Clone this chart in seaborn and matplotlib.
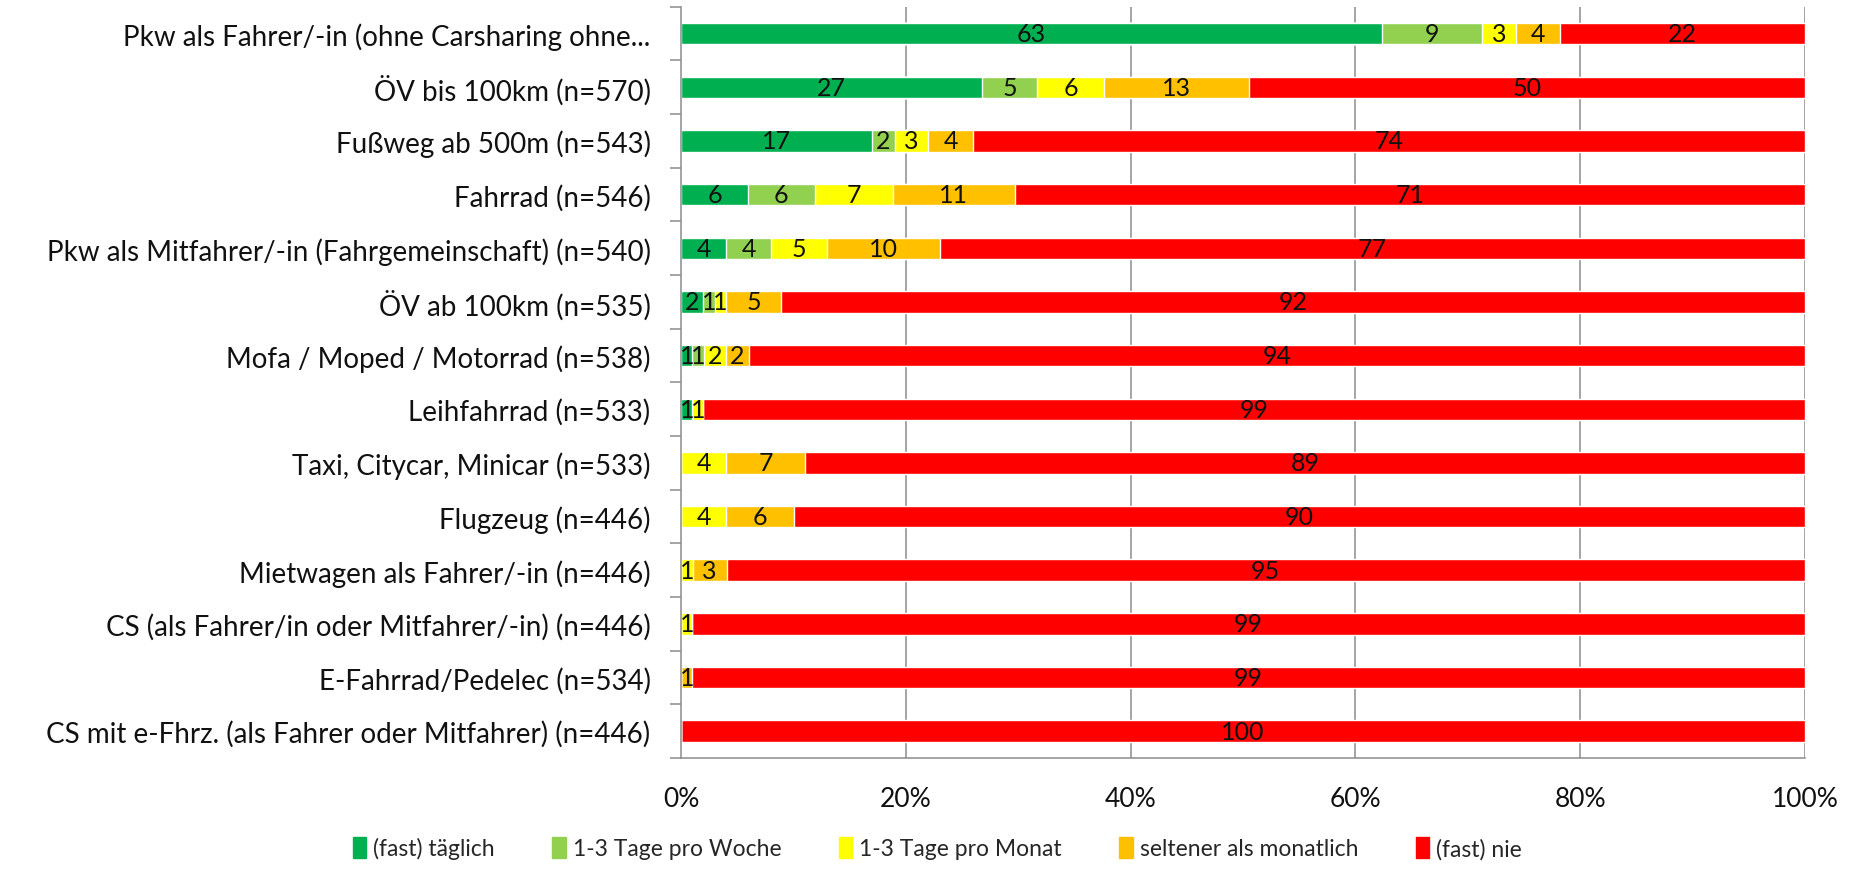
import numpy as np
import pandas as pd
import matplotlib
matplotlib.use('Agg')
import matplotlib.pyplot as plt
import matplotlib.patches as mpatches
import seaborn as sns

# Data (percent, top row first)
categories = ['Pkw als Fahrer/-in (ohne Carsharing ohne...',
              'ÖV bis 100km (n=570)',
              'Fußweg ab 500m (n=543)',
              'Fahrrad (n=546)',
              'Pkw als Mitfahrer/-in (Fahrgemeinschaft) (n=540)',
              'ÖV ab 100km (n=535)',
              'Mofa / Moped / Motorrad (n=538)',
              'Leihfahrrad (n=533)',
              'Taxi, Citycar, Minicar (n=533)',
              'Flugzeug (n=446)',
              'Mietwagen als Fahrer/-in (n=446)',
              'CS (als Fahrer/in oder Mitfahrer/-in) (n=446)',
              'E-Fahrrad/Pedelec (n=534)',
              'CS mit e-Fhrz. (als Fahrer oder Mitfahrer) (n=446)']
series = ['(fast) täglich', '1-3 Tage pro Woche', '1-3 Tage pro Monat',
          'seltener als monatlich', '(fast) nie']
taeglich = [63, 27, 17, 6, 4, 2, 1, 1, 0, 0, 0, 0, 0, 0]
woche    = [9, 5, 2, 6, 4, 1, 1, 0, 0, 0, 0, 0, 0, 0]
monat    = [3, 6, 3, 7, 5, 1, 2, 1, 4, 4, 1, 1, 0, 0]
selten   = [4, 13, 4, 11, 10, 5, 2, 0, 7, 6, 3, 0, 1, 0]
nie      = [22, 50, 74, 71, 77, 92, 94, 99, 89, 90, 95, 99, 99, 100]
colors = ['#00B050', '#92D050', '#FFFF00', '#FFC000', '#FF0000']

font = ['Lato', 'DejaVu Sans']

sns.set_theme(style='white')
plt.rcParams['font.family'] = font

vals = np.array([taeglich, woche, monat, selten, nie], dtype=float)
share = vals / vals.sum(axis=0) * 100  # 100% stacked like Excel
cum = np.cumsum(share, axis=0)

fig, ax = plt.subplots(figsize=(18.56, 8.70), dpi=100)
fig.subplots_adjust(left=0.367, right=0.9725, top=0.991, bottom=0.1276)

# vertical gridlines behind the bars
for gx in [20, 40, 60, 80, 100]:
    ax.axvline(gx, color='#8c8c8c', linewidth=1.1, zorder=0)

# stacked bars: draw cumulative totals, longest first
for i in range(len(series) - 1, -1, -1):
    df = pd.DataFrame({'cat': categories, 'val': cum[i]})
    sns.barplot(data=df, x='val', y='cat', orient='h', color=colors[i],
                saturation=1, width=0.4, ax=ax, zorder=2)

for i in range(len(series)):
    start = cum[i] - share[i]
    for j in range(len(categories)):
        if vals[i, j] > 0:
            ax.text(start[j] + share[i, j] / 2, j, '%d' % vals[i, j],
                    ha='center', va='center', fontsize=18, color='#111111', zorder=3)

ax.set_xlim(0, 100)
ax.set_ylim(len(categories) - 0.5, -0.5)
ax.set_xticks([0, 20, 40, 60, 80, 100])
ax.set_xticklabels(['0%', '20%', '40%', '60%', '80%', '100%'])
ax.set_xlabel('')
ax.set_ylabel('')
ax.tick_params(axis='x', labelsize=19, length=0, pad=20, colors='#111111')
ax.tick_params(axis='y', labelsize=20, length=0, pad=22, colors='#111111')

# category separator ticks on the left
ax.set_yticks(np.arange(-0.5, len(categories), 1), minor=True)
ax.tick_params(axis='y', which='minor', length=8, width=1.1, color='#8c8c8c', left=True)

for s in ['top', 'right']:
    ax.spines[s].set_visible(False)
ax.spines['left'].set_color('#8c8c8c')
ax.spines['bottom'].set_color('#8c8c8c')
ax.spines['left'].set_linewidth(1.1)
ax.spines['bottom'].set_linewidth(1.1)

handles = [mpatches.Patch(color=c, label=s) for c, s in zip(colors, series)]
fig.legend(handles=handles, loc='center', bbox_to_anchor=(0.505, 0.024), ncol=5,
           frameon=False, fontsize=16.5, handlelength=0.6, handleheight=1.0,
           handletextpad=0.3, columnspacing=2.5)

plt.savefig('out.png', dpi=100)
